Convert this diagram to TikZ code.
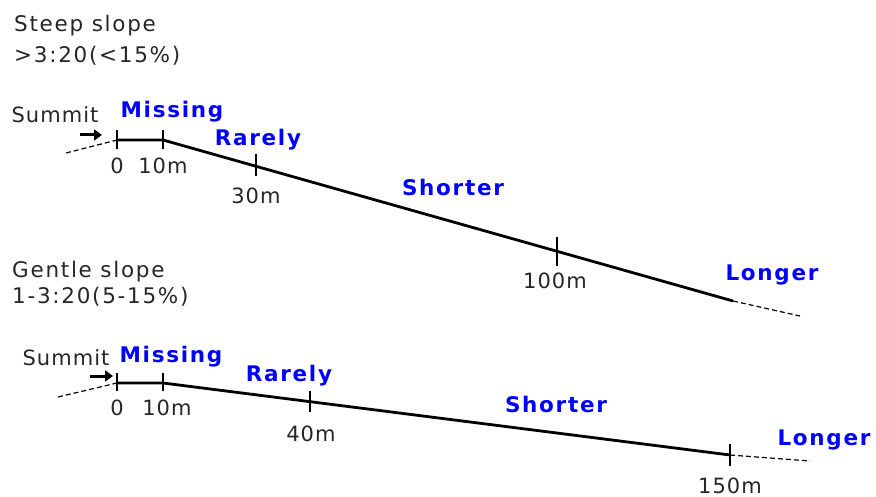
\documentclass[tikz,border=0pt]{standalone}
\usepackage{fontspec}
\setmainfont{DejaVu Sans}
\newfontfamily\lblfont[LetterSpace=5]{DejaVu Sans}
\newfontfamily\hdfont[LetterSpace=8]{DejaVu Sans}
\newfontfamily\bluefont[LetterSpace=8]{DejaVu Sans Bold}
\usetikzlibrary{arrows.meta}
\definecolor{lblblue}{RGB}{0,0,255}
\begin{document}
\begin{tikzpicture}[x=1pt,y=-1pt,
  txt/.style={anchor=base,inner sep=0pt,font=\lblfont\fontsize{21}{24}\selectfont,text=black!85},
  ltxt/.style={anchor=base west,inner sep=0pt,font=\hdfont\fontsize{21.5}{24}\selectfont,text=black!85},
  blbl/.style={anchor=base,inner sep=0pt,font=\bluefont\fontsize{21.5}{24}\selectfont,text=lblblue},
  ground/.style={line width=2.8pt,line cap=butt},
  ext/.style={line width=1.2pt,dash pattern=on 5pt off 3pt},
  tickmark/.style={line width=1.2pt},
  sumarrow/.style={line width=3pt,-{Triangle[length=8pt,width=11pt]}}]
\useasboundingbox (0,0) rectangle (876,497);
% ---- steep slope ----
\node[ltxt] (t1) at (14,32) {Steep slope};
\node[ltxt] (t2) at (14,63) {>3:20(<15\%)};
\node[txt] (s1) at (55,123) {Summit};
\coordinate (a1s) at (80,135);
\coordinate (a1e) at (102,135);
\draw[sumarrow] (a1s) -- (a1e);
\coordinate (d1) at (66,153);
\coordinate (p0) at (117,140);
\coordinate (p10) at (163,140);
\coordinate (p30) at (256,166);
\coordinate (p100) at (557,252);
\coordinate (pend) at (733,301);
\coordinate (d1e) at (800,316);
\draw[ext] (d1) -- (p0);
\draw[ground] (p0) -- (p10) -- (pend);
\draw[ext] (pend) -- (d1e);
\draw[tickmark] ([yshift=-9]p0) -- ([yshift=10]p0);
\draw[tickmark] ([yshift=-9]p10) -- ([yshift=10]p10);
\draw[tickmark] ([yshift=-10]p30) -- ([yshift=12]p30);
\draw[tickmark] ([yshift=-14]p100) -- ([yshift=15]p100);
\node[txt] (l0) at (117,174) {0};
\node[txt] (l10) at (163,174) {10m};
\node[txt] (l30) at (256,204) {30m};
\node[txt] (l100) at (555,289) {100m};
\node[blbl] (m1) at (172,118) {Missing};
\node[blbl] (r1) at (258,146) {Rarely};
\node[blbl] (sh1) at (453,196) {Shorter};
\node[blbl] (lo1) at (772,281) {Longer};
% ---- gentle slope ----
\node[ltxt] (g1) at (12,278) {Gentle slope};
\node[ltxt] (g2) at (12,303) {1-3:20(5-15\%)};
\node[txt] (s2) at (66,365) {Summit};
\coordinate (a2s) at (90,376);
\coordinate (a2e) at (113,376);
\draw[sumarrow] (a2s) -- (a2e);
\coordinate (e1) at (58,397);
\coordinate (q0) at (117,383);
\coordinate (q10) at (163,383);
\coordinate (q40) at (310,402);
\coordinate (q150) at (730,455);
\coordinate (e1e) at (810,461);
\draw[ext] (e1) -- (q0);
\draw[ground] (q0) -- (q10) -- (q150);
\draw[ext] (q150) -- (e1e);
\draw[tickmark] ([yshift=-8]q0) -- ([yshift=10]q0);
\draw[tickmark] ([yshift=-8]q10) -- ([yshift=10]q10);
\draw[tickmark] ([yshift=-10]q40) -- ([yshift=11]q40);
\draw[tickmark] ([yshift=-11]q150) -- ([yshift=11]q150);
\node[txt] (k0) at (117,415) {0};
\node[txt] (k10) at (167,415) {10m};
\node[txt] (k40) at (311,441) {40m};
\node[txt] (k150) at (730,493) {150m};
\node[blbl] (m2) at (171,362) {Missing};
\node[blbl] (r2) at (289,381) {Rarely};
\node[blbl] (sh2) at (556,412) {Shorter};
\node[blbl] (lo2) at (824,445) {Longer};
\end{tikzpicture}
\end{document}
